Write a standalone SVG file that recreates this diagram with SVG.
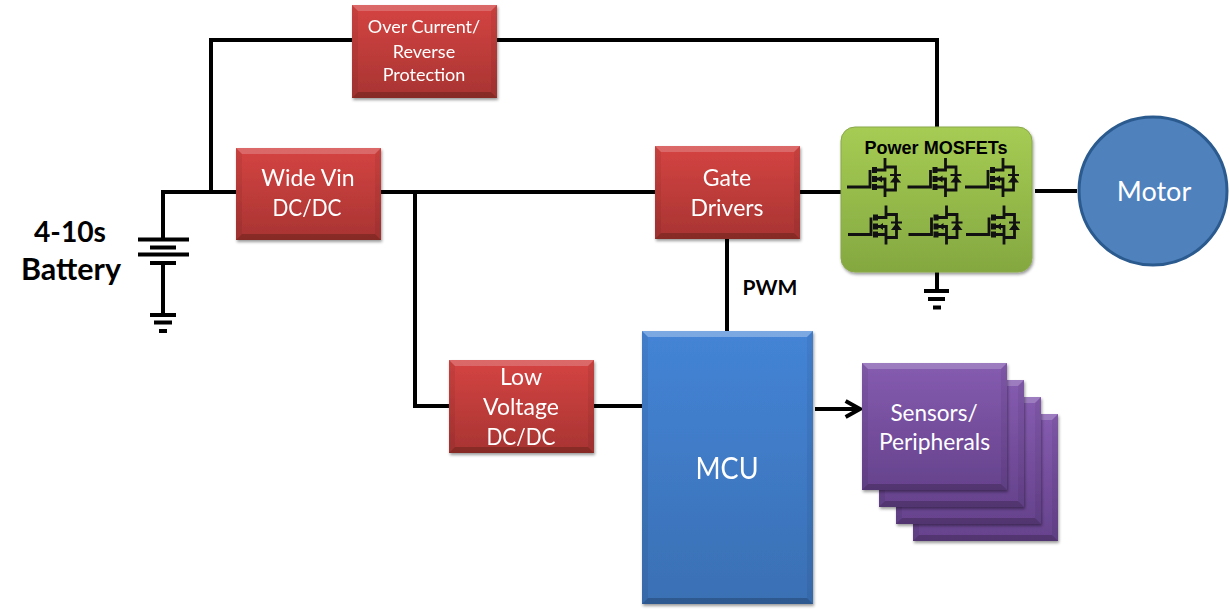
<svg xmlns="http://www.w3.org/2000/svg" xmlns:xlink="http://www.w3.org/1999/xlink" width="1230" height="615" viewBox="0 0 1230 615">
<style>
text{font-family:"Lato","Open Sans",sans-serif;text-anchor:middle;fill:#fff}
.k{fill:#000;font-weight:700}
.w{fill:none;stroke:#000;stroke-width:4;stroke-linejoin:miter}
.m{fill:none;stroke:#111;stroke-width:2.8}
.hi{fill:#fff;opacity:.2}
.lo{fill:#000;opacity:.06}
.lo2{fill:#000;opacity:.2}
.red{fill:url(#gr)}
.pur{fill:url(#gp)}
</style>
<defs>
<linearGradient id="gr" x1="0" y1="0" x2="0" y2="1"><stop offset="0" stop-color="#d44442"/><stop offset="1" stop-color="#a83432"/></linearGradient>
<linearGradient id="gp" x1="0" y1="0" x2="0" y2="1"><stop offset="0" stop-color="#855cb0"/><stop offset="1" stop-color="#66428c"/></linearGradient>
<linearGradient id="gb" x1="0" y1="0" x2="0" y2="1"><stop offset="0" stop-color="#4484d6"/><stop offset="1" stop-color="#3a70b4"/></linearGradient>
<linearGradient id="gg" x1="0" y1="0" x2="0" y2="1"><stop offset="0" stop-color="#a6cc54"/><stop offset="1" stop-color="#84a840"/></linearGradient>
<filter id="sh" x="-10%" y="-10%" width="120%" height="120%"><feDropShadow dx="1" dy="2" stdDeviation="1.6" flood-color="#000" flood-opacity=".4"/></filter>
<marker id="arr" markerWidth="8" markerHeight="8" refX="6" refY="4" orient="auto" markerUnits="strokeWidth"><path d="M2.400 2L6 4L2.400 6" fill="none" stroke="#000" stroke-width="1"/></marker>
<g id="fet">
<path class="m" d="M2 32H25V15M25 24V32"/>
<path class="m" d="M29 15H40V3M40 12H50.500V35H40M29 32H40V42M29 24H40V32"/>
<path d="M27 12h5v6h-5zM27 21h5v6h-5zM27 29h5v6h-5zM32 24l5-3.500v7z" fill="#111"/>
<path d="M45 27.500h11l-5.500-7z M45 19h11v2h-11z" fill="#111"/>
</g>
</defs>
<g id="connectors">
<path class="w" d="M211 192V40H352M497 40H937V127"/>
<path class="w" d="M163 238V192H236"/>
<path class="w" d="M381 192H655M415 192V406H449M594 406H642M800 192H841M1035 191H1077M727 239V331"/>
<path class="w" d="M937 272V290"/>
<path class="w" d="M815 409L860 409" marker-end="url(#arr)"/>
</g>
<g id="battery">
<path class="w" d="M138 239.500H189M150 247.500H176M138 254.500H189M150 263H176M163 263V315M150 315H176M154 322.500H172M159 331H167"/>
<text class="k" font-size="29" x="70" y="242" textLength="72" lengthAdjust="spacingAndGlyphs">4-10s</text>
<text class="k" font-size="30" x="71" y="280" textLength="100" lengthAdjust="spacingAndGlyphs">Battery</text>
</g>
<g id="ground"><path class="w" d="M924 291H949M928 299H945M933 307.500H941"/></g>
<g id="over-current" filter="url(#sh)">
<rect class="red" x="352" y="5" width="145" height="93"/>
<path class="hi" d="M352 5H497L491 11H358Z"/><path class="lo" d="M352 5L358 11V92L352 98ZM497 5L491 11V92L497 98Z"/><path class="lo2" d="M352 98L358 92H491L497 98Z"/>
<text font-size="18" x="424" y="33">Over Current/</text><text font-size="18" x="424" y="58">Reverse</text><text font-size="18" x="424" y="81">Protection</text>
</g>
<g id="wide-vin" filter="url(#sh)">
<rect class="red" x="236" y="148" width="145" height="92"/>
<path class="hi" d="M236 148H381L375 154H242Z"/><path class="lo" d="M236 148L242 154V234L236 240ZM381 148L375 154V234L381 240Z"/><path class="lo2" d="M236 240L242 234H375L381 240Z"/>
<text font-size="23" x="308" y="186">Wide Vin</text><text font-size="23" x="307" y="216" textLength="69" lengthAdjust="spacingAndGlyphs">DC/DC</text>
</g>
<g id="gate-drivers" filter="url(#sh)">
<rect class="red" x="655" y="146" width="145" height="93"/>
<path class="hi" d="M655 146H800L794 152H661Z"/><path class="lo" d="M655 146L661 152V233L655 239ZM800 146L794 152V233L800 239Z"/><path class="lo2" d="M655 239L661 233H794L800 239Z"/>
<text font-size="23" x="727" y="186">Gate</text><text font-size="23" x="727" y="216">Drivers</text>
</g>
<g id="low-voltage" filter="url(#sh)">
<rect class="red" x="449" y="360" width="145" height="93"/>
<path class="hi" d="M449 360H594L588 366H455Z"/><path class="lo" d="M449 360L455 366V447L449 453ZM594 360L588 366V447L594 453Z"/><path class="lo2" d="M449 453L455 447H588L594 453Z"/>
<text font-size="23" x="521" y="385">Low</text><text font-size="23" x="521" y="415">Voltage</text><text font-size="23" x="521" y="445" textLength="69" lengthAdjust="spacingAndGlyphs">DC/DC</text>
</g>
<g id="mcu" filter="url(#sh)">
<rect fill="url(#gb)" x="642" y="331" width="171" height="273"/>
<path class="hi" d="M642 331H813L807 337H648Z" style="opacity:.3"/><path class="lo" d="M642 331L648 337V598L642 604ZM813 331L807 337V598L813 604Z"/><path class="lo2" d="M642 604L648 598H807L813 604Z"/>
<text font-size="31" x="727" y="479" textLength="63" lengthAdjust="spacingAndGlyphs">MCU</text>
</g>
<g id="sensors">
<g filter="url(#sh)"><rect class="pur" x="913" y="414" width="145" height="127"/><path class="hi" d="M913 414H1058L1052 420H919Z"/><path class="lo" d="M1058 414L1052 420V535L1058 541ZM913 414L919 420V535L913 541Z"/><path class="lo2" d="M913 541L919 535H1052L1058 541Z"/></g>
<g filter="url(#sh)"><rect class="pur" x="896" y="397" width="145" height="127"/><path class="hi" d="M896 397H1041L1035 403H902Z"/><path class="lo" d="M1041 397L1035 403V518L1041 524ZM896 397L902 403V518L896 524Z"/><path class="lo2" d="M896 524L902 518H1035L1041 524Z"/></g>
<g filter="url(#sh)"><rect class="pur" x="879" y="380" width="145" height="127"/><path class="hi" d="M879 380H1024L1018 386H885Z"/><path class="lo" d="M1024 380L1018 386V501L1024 507ZM879 380L885 386V501L879 507Z"/><path class="lo2" d="M879 507L885 501H1018L1024 507Z"/></g>
<g filter="url(#sh)"><rect class="pur" x="862" y="363" width="145" height="127"/><path class="hi" d="M862 363H1007L1001 369H868Z"/><path class="lo" d="M1007 363L1001 369V484L1007 490ZM862 363L868 369V484L862 490Z"/><path class="lo2" d="M862 490L868 484H1001L1007 490Z"/></g>
<text font-size="22.500" x="934" y="421">Sensors/</text><text font-size="22.800" x="934.500" y="450">Peripherals</text>
</g>
<g id="power-mosfets">
<rect fill="url(#gg)" stroke="#8aa84a" x="841" y="127" width="191" height="145" rx="14" filter="url(#sh)"/>
<text x="936" y="154" font-size="18" style="font-family:'Liberation Sans',Arial,sans-serif;fill:#000;font-weight:700" textLength="143" lengthAdjust="spacingAndGlyphs">Power MOSFETs</text>
<use xlink:href="#fet" href="#fet" x="845" y="155"/>
<use xlink:href="#fet" href="#fet" x="905.500" y="155"/>
<use xlink:href="#fet" href="#fet" x="963" y="155"/>
<use xlink:href="#fet" href="#fet" x="846" y="202.500"/>
<use xlink:href="#fet" href="#fet" x="906.500" y="202.500"/>
<use xlink:href="#fet" href="#fet" x="964" y="202.500"/>
</g>
<g id="motor"><circle cx="1153" cy="191" r="74" fill="#4f81bd" stroke="#2a5a8e" stroke-width="3"/><text font-size="27" x="1154" y="201">Motor</text></g>
<text class="k" id="pwm" font-size="21" x="770" y="295">PWM</text>
</svg>
